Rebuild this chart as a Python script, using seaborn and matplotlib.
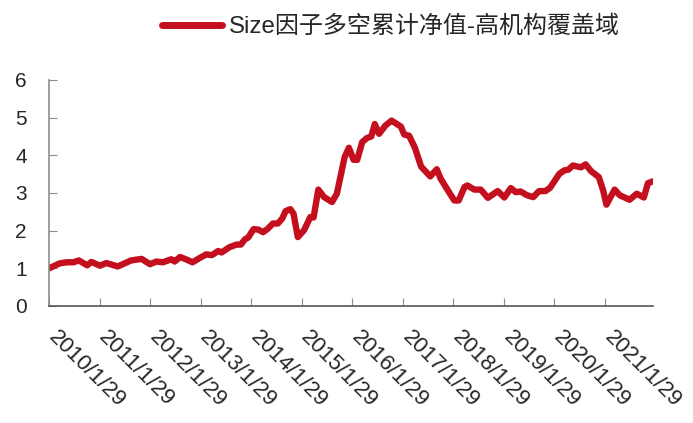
import pandas as pd
import numpy as np
import matplotlib
matplotlib.use("Agg")
import matplotlib.pyplot as plt
from matplotlib.transforms import ScaledTranslation
import seaborn as sns

# Données
dates = ["2010-01-29", "2010-04-15", "2010-06-05", "2010-07-26", "2010-09-01",
         "2010-11-01", "2010-12-01", "2011-02-01", "2011-03-20", "2011-06-10",
         "2011-09-15", "2011-11-29", "2012-01-29", "2012-03-15", "2012-05-01",
         "2012-07-01", "2012-07-25", "2012-09-01", "2012-10-08", "2012-12-01",
         "2013-01-25", "2013-03-10", "2013-04-20", "2013-06-05", "2013-06-29",
         "2013-08-25", "2013-10-15", "2013-11-15", "2013-12-15", "2014-01-08",
         "2014-02-15", "2014-03-20", "2014-04-25", "2014-05-29", "2014-07-05",
         "2014-08-10", "2014-09-10", "2014-10-05", "2014-11-08", "2014-12-01",
         "2015-01-01", "2015-02-15", "2015-04-01", "2015-04-25", "2015-05-29",
         "2015-07-10", "2015-09-05", "2015-10-10", "2015-12-05", "2016-01-05",
         "2016-02-08", "2016-03-05", "2016-04-10", "2016-05-15", "2016-06-15",
         "2016-07-10", "2016-08-10", "2016-09-25", "2016-11-08", "2016-12-08",
         "2017-01-15", "2017-02-08", "2017-03-15", "2017-04-25", "2017-06-10",
         "2017-08-15", "2017-10-01", "2017-10-29", "2017-12-20", "2018-02-05",
         "2018-03-08", "2018-04-20", "2018-05-10", "2018-06-29", "2018-08-15",
         "2018-10-05", "2018-12-15", "2019-02-01", "2019-03-20", "2019-04-25",
         "2019-05-29", "2019-07-15", "2019-08-29", "2019-10-10", "2019-11-25",
         "2019-12-29", "2020-03-05", "2020-04-10", "2020-05-10", "2020-06-10",
         "2020-08-08", "2020-09-10", "2020-10-20", "2020-12-15", "2021-01-15",
         "2021-02-08", "2021-04-08", "2021-05-15", "2021-07-25", "2021-09-15",
         "2021-11-05", "2021-12-05", "2022-01-10"]
valeurs = [1.00, 1.13, 1.16, 1.16, 1.21, 1.08, 1.17, 1.07, 1.14, 1.05,
           1.21, 1.25, 1.11, 1.18, 1.16, 1.24, 1.18, 1.30, 1.25, 1.16,
           1.28, 1.37, 1.35, 1.46, 1.42, 1.56, 1.63, 1.63, 1.77, 1.82,
           2.04, 2.03, 1.96, 2.05, 2.19, 2.19, 2.32, 2.52, 2.57, 2.45,
           1.83, 2.01, 2.36, 2.35, 3.09, 2.89, 2.76, 2.98, 3.95, 4.20,
           3.88, 3.88, 4.35, 4.46, 4.50, 4.83, 4.57, 4.79, 4.92, 4.85,
           4.76, 4.55, 4.52, 4.21, 3.70, 3.44, 3.63, 3.38, 3.07, 2.80,
           2.80, 3.16, 3.20, 3.09, 3.09, 2.87, 3.05, 2.88, 3.13, 3.02,
           3.04, 2.94, 2.89, 3.05, 3.05, 3.14, 3.51, 3.60, 3.62, 3.73,
           3.68, 3.76, 3.58, 3.42, 3.07, 2.69, 3.09, 2.94, 2.82, 2.98,
           2.88, 3.26, 3.31]
ticks = ["2010/1/29", "2011/1/29", "2012/1/29", "2013/1/29", "2014/1/29", "2015/1/29",
         "2016/1/29", "2017/1/29", "2018/1/29", "2019/1/29", "2020/1/29", "2021/1/29"]
serie = "Size因子多空累计净值-高机构覆盖域"

##########################################################

sns.set_style("white")
plt.rcParams['font.family'] = ['Liberation Sans', 'Noto Sans CJK SC', 'DejaVu Sans']

df = pd.DataFrame({"date": pd.to_datetime(dates), "val": valeurs})
rouge = '#C4101E'

fig = plt.figure(figsize=(6.93, 4.23), dpi=100)
ax = fig.add_axes([0.0707, 0.2766, 0.8715, 0.5344])

sns.lineplot(data=df, x="date", y="val", color=rouge, linewidth=4.6, ax=ax, label=serie)

ax.set_xlim(df["date"].iloc[0], df["date"].iloc[-1])
ax.set_ylim(0, 6)
ax.set_yticks(range(0, 7))
tick_pos = pd.to_datetime([t.replace("/", "-") for t in ticks])
ax.set_xticks(tick_pos)
ax.set_xticklabels(ticks, rotation=-45, ha='left', va='top')
ax.set_xlabel("")
ax.set_ylabel("")

for s in ['top', 'right']:
    ax.spines[s].set_visible(False)
ax.spines['left'].set_color('#8c8c8c')
ax.spines['bottom'].set_color('#555555')
ax.spines['left'].set_linewidth(1.2)
ax.spines['bottom'].set_linewidth(1.2)

ax.tick_params(axis='y', direction='in', length=6, color='#8c8c8c', labelsize=15, pad=16, left=True)
ax.tick_params(axis='x', direction='in', length=6, color='#8c8c8c', labelsize=16, pad=15, bottom=True)
for lbl in ax.get_xticklabels():
    lbl.set_transform(lbl.get_transform() + ScaledTranslation(-0.05, 0, fig.dpi_scale_trans))

leg = ax.legend(loc='center left', bbox_to_anchor=(0.2338, 0.936), bbox_transform=fig.transFigure,
                frameon=False, fontsize=17.3, handlelength=2.5, handletextpad=0.3,
                borderpad=0, borderaxespad=0)
for l in leg.get_lines():
    l.set_linewidth(5)

fig.savefig("out.png", dpi=100)
